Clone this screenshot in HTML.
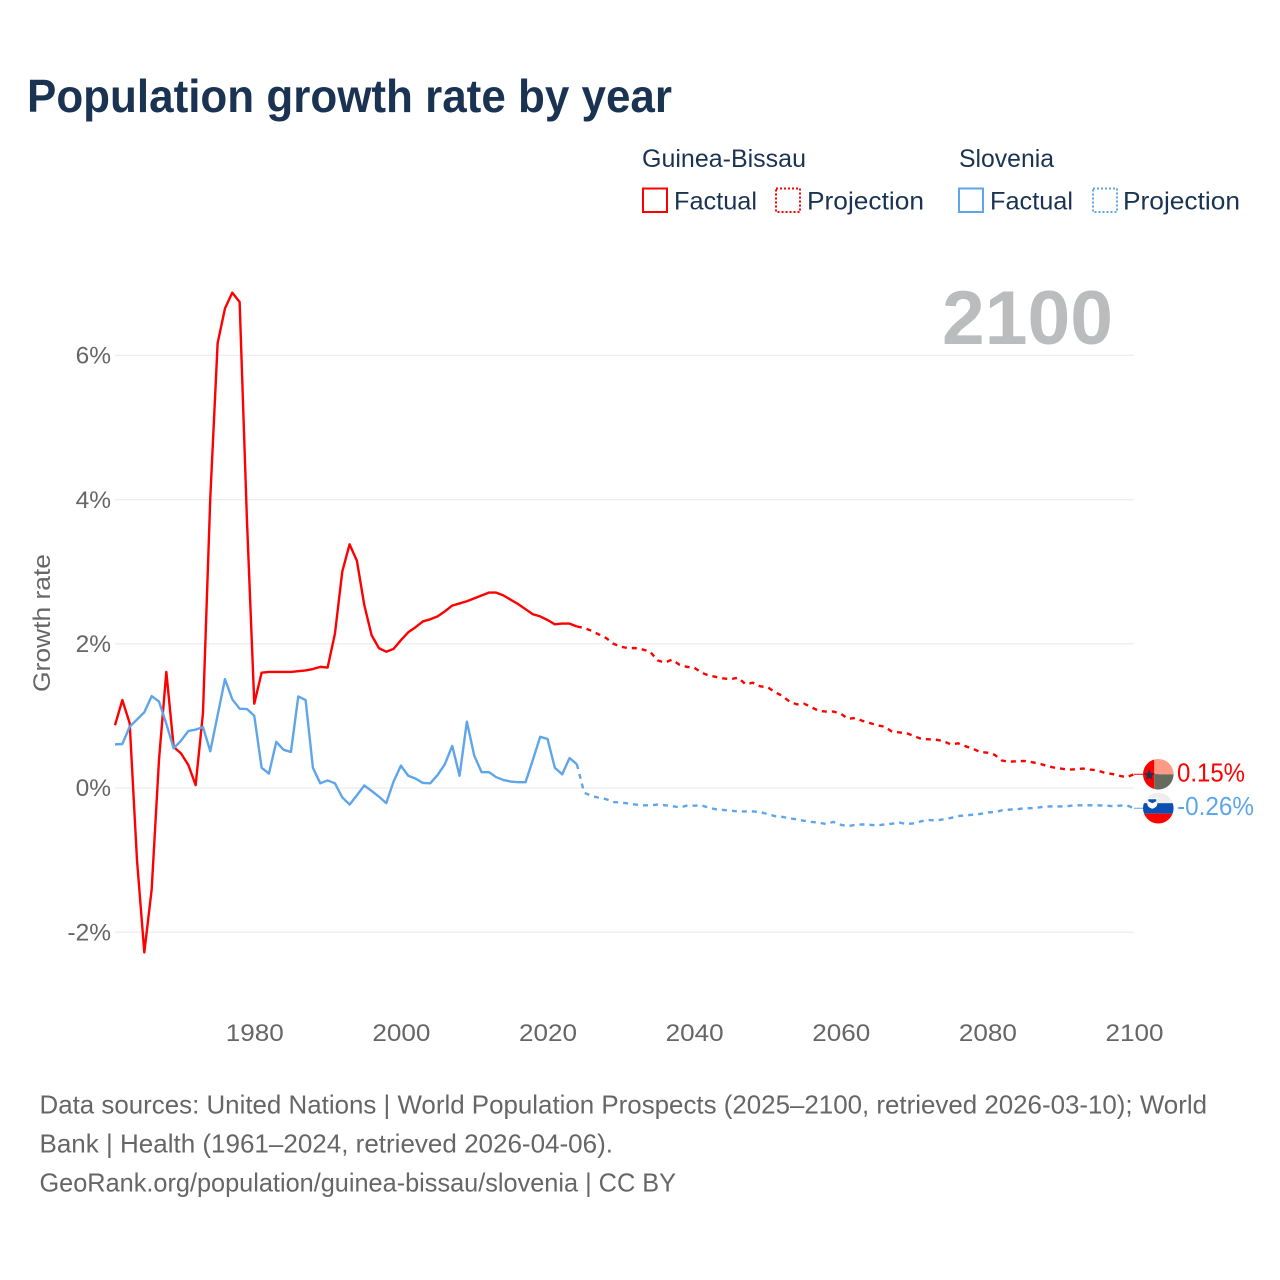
<!DOCTYPE html>
<html lang="en">
<head>
<meta charset="utf-8">
<title>Population growth rate by year</title>
<style>
  html, body { margin: 0; padding: 0; background: #ffffff; }
  svg { display: block; font-family: "Liberation Sans", sans-serif; }
</style>
</head>
<body>
<svg id="chart" xmlns="http://www.w3.org/2000/svg" width="1280" height="1280" viewBox="0 0 1280 1280">
  <rect x="0" y="0" width="1280" height="1280" fill="#ffffff"/>
  <text x="27" y="112" font-size="46" font-weight="700" fill="#1a3352" textLength="645" lengthAdjust="spacingAndGlyphs">Population growth rate by year</text>

  <g font-size="25" fill="#1a3352">
    <text x="642" y="167" textLength="164" lengthAdjust="spacingAndGlyphs">Guinea-Bissau</text>
    <text x="959" y="167" textLength="95" lengthAdjust="spacingAndGlyphs">Slovenia</text>
    <rect x="643" y="188.5" width="24" height="23.500" fill="none" stroke="#ff0000" stroke-width="2"/>
    <text x="674" y="209.500" textLength="83" lengthAdjust="spacingAndGlyphs">Factual</text>
    <rect x="776" y="188.5" width="24" height="23.500" fill="none" stroke="#ff0000" stroke-width="2" stroke-dasharray="2 2"/>
    <text x="807" y="209.500" textLength="117" lengthAdjust="spacingAndGlyphs">Projection</text>
    <rect x="959" y="188.5" width="24" height="23.500" fill="none" stroke="#5fa5ea" stroke-width="2"/>
    <text x="990" y="209.500" textLength="83" lengthAdjust="spacingAndGlyphs">Factual</text>
    <rect x="1093" y="188.5" width="24" height="23.500" fill="none" stroke="#5fa5ea" stroke-width="2" stroke-dasharray="2 2"/>
    <text x="1123" y="209.500" textLength="117" lengthAdjust="spacingAndGlyphs">Projection</text>
  </g>

  <g id="grid"></g>
  <text x="942" y="344" font-size="76" font-weight="700" fill="#bbbcbe" textLength="171" lengthAdjust="spacingAndGlyphs">2100</text>
  <g id="yticks" font-size="24.5" fill="#666666"></g>
  <g id="xticks" font-size="24.5" fill="#666666"></g>
  <text transform="translate(50,623) rotate(-90)" text-anchor="middle" font-size="24.5" fill="#666666" textLength="138" lengthAdjust="spacingAndGlyphs">Growth rate</text>
  <g id="series"></g>

  <defs>
    <clipPath id="clip-gw"><circle id="clip-gw-circle" cx="0" cy="0" r="15.3"/></clipPath>
    <clipPath id="clip-si"><circle id="clip-si-circle" cx="0" cy="0" r="15.3"/></clipPath>
  </defs>
  <g id="flag-gw">
    <g clip-path="url(#clip-gw)">
      <rect x="-16" y="-16" width="12" height="32" fill="#ff0000"/>
      <rect x="-4" y="-16" width="20" height="16" fill="#ff9a85"/>
      <rect x="-4" y="0" width="20" height="16" fill="#666b5e"/>
    </g>
    <polygon points="-9,-5 -7.6,-1 -3.3,-1 -6.8,1.6 -5.5,5.6 -9,3.2 -12.5,5.6 -11.2,1.6 -14.7,-1 -10.4,-1" fill="#1a3352"/>
  </g>
  <g id="flag-si">
    <g clip-path="url(#clip-si)">
      <rect x="-16" y="-16" width="32" height="11" fill="#eeeeee"/>
      <rect x="-16" y="-5" width="32" height="10.5" fill="#0b4fb3"/>
      <rect x="-16" y="5.5" width="32" height="11" fill="#ff0000"/>
    </g>
    <path d="M-11,-10 h10 v5.500 q0,3.500 -5,5 q-5,-1.500 -5,-5 z" fill="#ffffff"/>
    <path d="M-10,-9 h8 v2 l-4,2 l-4,-2 z" fill="#0b4fb3"/>
  </g>
  <g id="end-labels" font-size="25.5"></g>

  <g font-size="26" fill="#666666">
    <text x="39.500" y="1113.500" textLength="1167.500" lengthAdjust="spacingAndGlyphs">Data sources: United Nations | World Population Prospects (2025–2100, retrieved 2026-03-10); World</text>
    <text x="39.500" y="1152.500" textLength="573.500" lengthAdjust="spacingAndGlyphs">Bank | Health (1961–2024, retrieved 2026-04-06).</text>
    <text x="39.500" y="1191.500" textLength="636.500" lengthAdjust="spacingAndGlyphs">GeoRank.org/population/guinea-bissau/slovenia | CC BY</text>
  </g>
</svg>

<script>
// Chart data: growth rates in percent, one value per year.
const factualStartYear = 1961;
const projectionStartYear = 2024;
const xTickYears = [1980, 2000, 2020, 2040, 2060, 2080, 2100];
const xTickLabels = ["1980", "2000", "2020", "2040", "2060", "2080", "2100"];
const yTickValues = [6, 4, 2, 0, -2];
const yTickLabels = ["6%", "4%", "2%", "0%", "-2%"];
const endValueLabels = ["0.15%", "-0.26%"];

const guineaBissauFactual = [
  0.87, 1.22, 0.90, -1.00, -2.28, -1.41, 0.39, 1.61, 0.57, 0.48,
  0.32, 0.04, 1.04, 4.03, 6.17, 6.65, 6.87, 6.74, 3.71, 1.17,
  1.60, 1.61, 1.61, 1.61, 1.61, 1.62, 1.63, 1.65, 1.68, 1.67,
  2.14, 3.00, 3.38, 3.15, 2.54, 2.12, 1.94, 1.89, 1.93, 2.05,
  2.16, 2.23, 2.31, 2.34, 2.38, 2.45, 2.53, 2.56, 2.59, 2.63,
  2.67, 2.71, 2.71, 2.67, 2.61, 2.55, 2.48, 2.41, 2.38, 2.33,
  2.27, 2.28, 2.28, 2.24
];
const guineaBissauProjection = [
  2.24, 2.22, 2.18, 2.13, 2.08, 2.00, 1.96, 1.94, 1.94, 1.92,
  1.89, 1.77, 1.74, 1.78, 1.71, 1.68, 1.67, 1.60, 1.56, 1.54,
  1.52, 1.51, 1.53, 1.44, 1.46, 1.41, 1.40, 1.33, 1.28, 1.20,
  1.16, 1.17, 1.12, 1.07, 1.06, 1.06, 1.03, 0.96, 0.97, 0.93,
  0.90, 0.87, 0.85, 0.78, 0.77, 0.76, 0.72, 0.68, 0.675, 0.67,
  0.65, 0.605, 0.62, 0.58, 0.545, 0.50, 0.49, 0.46, 0.38, 0.365,
  0.37, 0.375, 0.36, 0.34, 0.31, 0.285, 0.27, 0.255, 0.26, 0.27,
  0.255, 0.245, 0.21, 0.195, 0.17, 0.15, 0.19
];
const sloveniaFactual = [
  0.605, 0.61, 0.85, 0.95, 1.05, 1.275, 1.20, 0.89, 0.55, 0.655,
  0.79, 0.81, 0.845, 0.51, 1.01, 1.51, 1.23, 1.10, 1.095, 1.00,
  0.28, 0.20, 0.64, 0.53, 0.50, 1.27, 1.22, 0.28, 0.065, 0.105,
  0.065, -0.13, -0.23, -0.10, 0.035, -0.04, -0.12, -0.21, 0.09, 0.31,
  0.17, 0.13, 0.07, 0.065, 0.18, 0.33, 0.585, 0.17, 0.92, 0.45,
  0.22, 0.22, 0.15, 0.11, 0.09, 0.08, 0.08, 0.39, 0.71, 0.68,
  0.28, 0.19, 0.415, 0.33
];
const sloveniaProjection = [
  0.33, -0.065, -0.11, -0.135, -0.155, -0.195, -0.20, -0.215, -0.23, -0.24,
  -0.24, -0.23, -0.24, -0.25, -0.27, -0.245, -0.245, -0.24, -0.275, -0.295,
  -0.305, -0.315, -0.325, -0.325, -0.325, -0.335, -0.36, -0.39, -0.40, -0.42,
  -0.435, -0.455, -0.47, -0.48, -0.50, -0.47, -0.51, -0.53, -0.51, -0.505,
  -0.51, -0.52, -0.505, -0.495, -0.48, -0.50, -0.49, -0.46, -0.445, -0.45,
  -0.435, -0.415, -0.39, -0.38, -0.37, -0.36, -0.34, -0.335, -0.31, -0.30,
  -0.295, -0.28, -0.28, -0.27, -0.255, -0.255, -0.255, -0.25, -0.24, -0.24,
  -0.24, -0.24, -0.245, -0.25, -0.245, -0.24, -0.28
];

const RED = "#ff0000";
const BLUE = "#5fa5ea";
const NS = "http://www.w3.org/2000/svg";
const plotLeft = 115, plotRight = 1134, yearMin = 1961, yearMax = 2100;
const zeroY = 788, pxPerPercent = 72.1;

function xScale(year) {
  return plotLeft + (year - yearMin) * (plotRight - plotLeft) / (yearMax - yearMin);
}
function yScale(value) {
  return zeroY - value * pxPerPercent;
}
function make(tag, attrs, parent) {
  const el = document.createElementNS(NS, tag);
  for (const k in attrs) el.setAttribute(k, attrs[k]);
  parent.appendChild(el);
  return el;
}
function linePath(values, startYear) {
  return values.map(function (v, i) {
    return (i ? "L" : "M") + xScale(startYear + i).toFixed(2) + "," + yScale(v).toFixed(2);
  }).join(" ");
}

const gridGroup = document.getElementById("grid");
const yTickGroup = document.getElementById("yticks");
const xTickGroup = document.getElementById("xticks");
const seriesGroup = document.getElementById("series");
const endLabelGroup = document.getElementById("end-labels");

yTickValues.forEach(function (v, i) {
  const line = make("line", { x1: plotLeft, x2: plotRight, y1: yScale(v), y2: yScale(v), stroke: "#eeeeee", "stroke-width": 1.3 }, gridGroup);
  
  
  const label = make("text", { x: 111, y: yScale(v) + 8.2, "text-anchor": "end" }, yTickGroup);
  
  
  label.textContent = yTickLabels[i];
});

xTickYears.forEach(function (year, i) {
  const label = make("text", { x: xScale(year) + 0.5, y: 1041, "text-anchor": "middle", textLength: 58, lengthAdjust: "spacingAndGlyphs" }, xTickGroup);
  
  
  label.textContent = xTickLabels[i];
});

function lineStyle(color, dashed) {
  const s = { fill: "none", stroke: color, "stroke-width": 2.4, "stroke-linejoin": "round" };
  if (dashed) s["stroke-dasharray"] = "5 5";
  return s;
}

const gwFactualLine = make("path", lineStyle(RED, false), seriesGroup);


gwFactualLine.setAttribute("d", linePath(guineaBissauFactual, factualStartYear));

const gwProjectionLine = make("path", lineStyle(RED, true), seriesGroup);


gwProjectionLine.setAttribute("d", linePath(guineaBissauProjection, projectionStartYear));

const siFactualLine = make("path", lineStyle(BLUE, false), seriesGroup);


siFactualLine.setAttribute("d", linePath(sloveniaFactual, factualStartYear));

const siProjectionLine = make("path", lineStyle(BLUE, true), seriesGroup);


siProjectionLine.setAttribute("d", linePath(sloveniaProjection, projectionStartYear));

const flagX = 1158.3;
const gwEndY = yScale(guineaBissauProjection[guineaBissauProjection.length - 1]);
const siEndY = yScale(sloveniaProjection[sloveniaProjection.length - 1]);

const gwConnector = make("line", { x1: plotRight, x2: flagX, y1: gwEndY, y2: gwEndY, stroke: RED, "stroke-width": 1 }, seriesGroup);


const siConnector = make("line", { x1: plotRight, x2: flagX, y1: siEndY, y2: siEndY, stroke: BLUE, "stroke-width": 1 }, seriesGroup);



document.getElementById("flag-gw").setAttribute("transform", "translate(" + flagX + "," + gwEndY + ")");
document.getElementById("flag-si").setAttribute("transform", "translate(" + flagX + "," + siEndY + ")");
document.getElementById("chart").appendChild(document.getElementById("flag-gw"));
document.getElementById("chart").appendChild(document.getElementById("flag-si"));

const gwEndLabel = make("text", { x: 1177, y: gwEndY + 7, fill: RED, textLength: 68, lengthAdjust: "spacingAndGlyphs" }, endLabelGroup);


gwEndLabel.textContent = endValueLabels[0];
const siEndLabel = make("text", { x: 1177, y: siEndY + 7, fill: BLUE, textLength: 77, lengthAdjust: "spacingAndGlyphs" }, endLabelGroup);


siEndLabel.textContent = endValueLabels[1];
</script>
</body>
</html>
